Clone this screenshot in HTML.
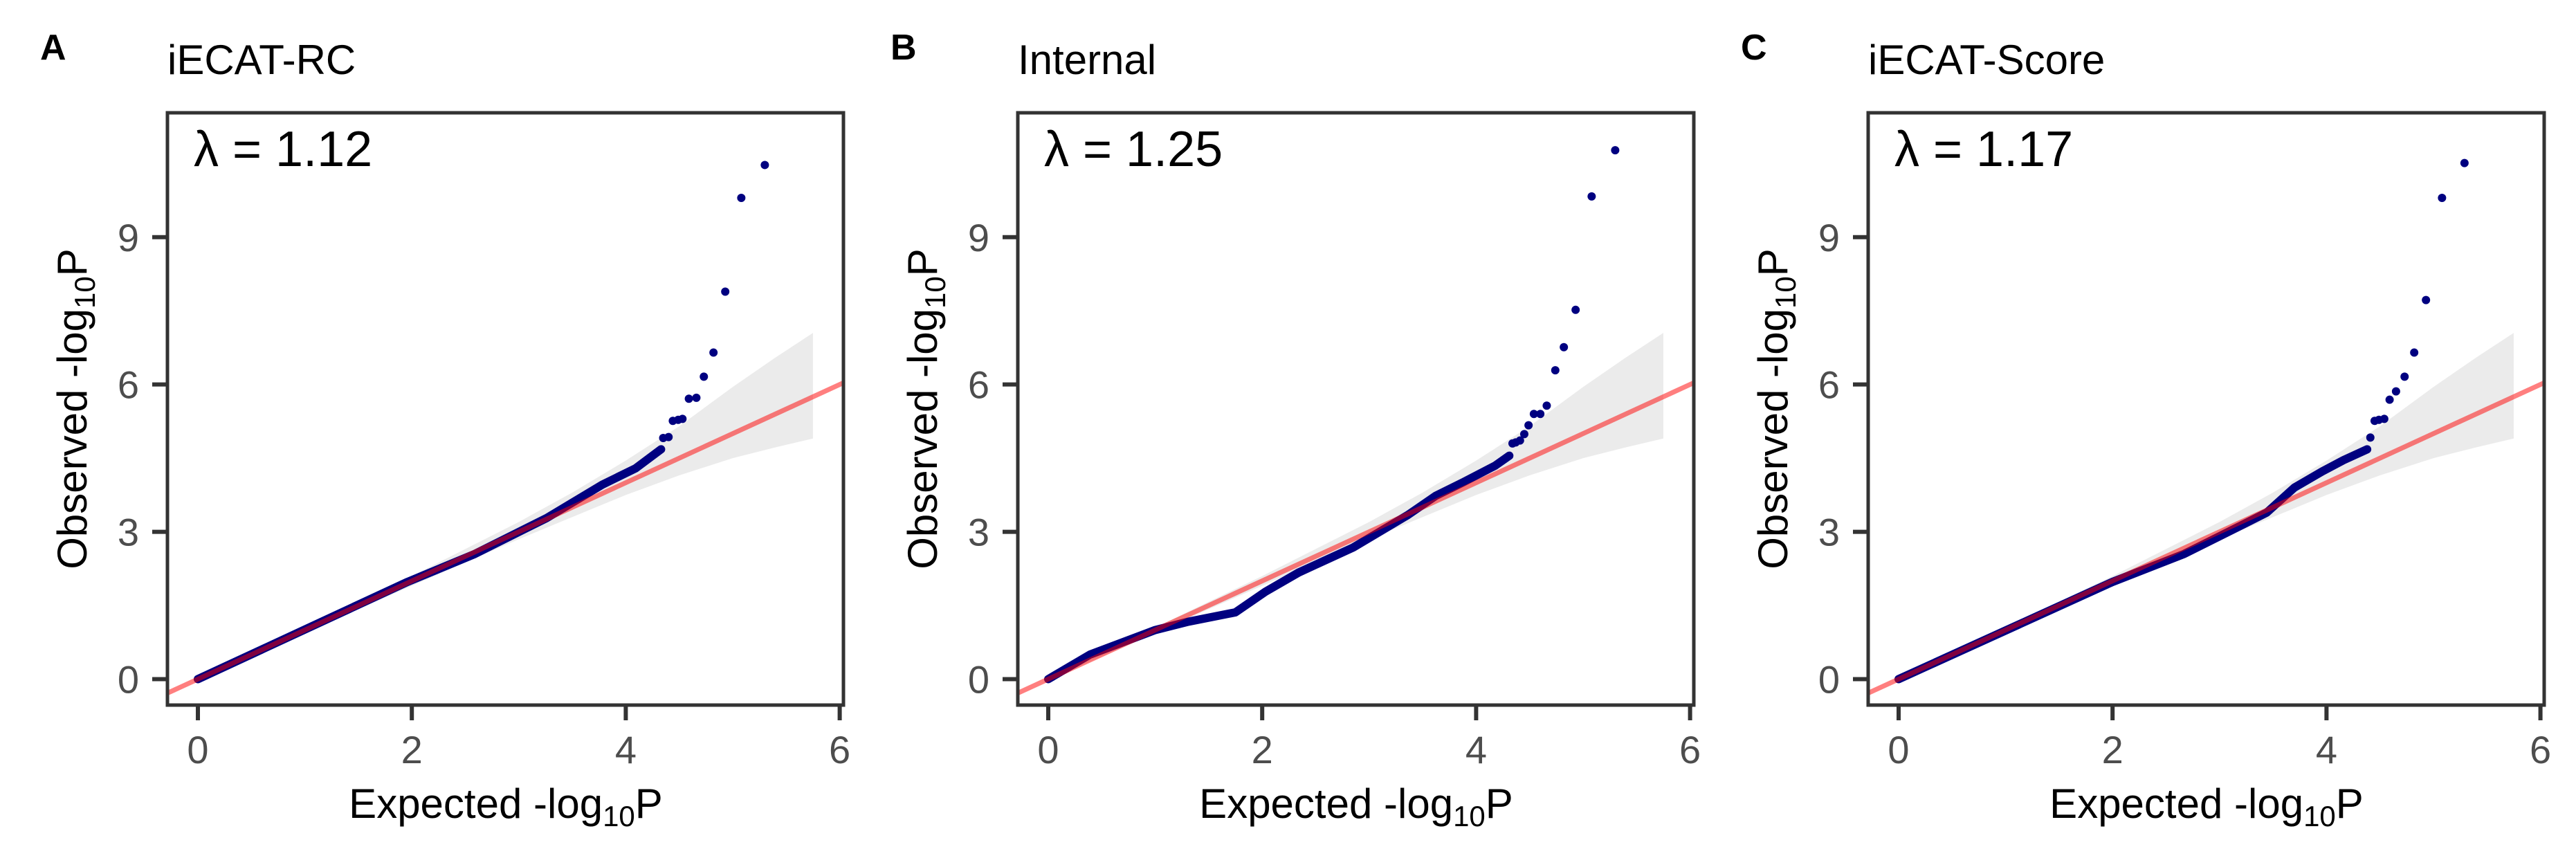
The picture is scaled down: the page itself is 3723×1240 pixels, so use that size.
<!DOCTYPE html>
<html><head><meta charset="utf-8">
<style>
html,body{margin:0;padding:0;background:#fff;}
svg{display:block;font-family:"Liberation Sans",Arial,sans-serif;}
</style></head>
<body>
<svg id="fig" width="3723" height="1240" viewBox="0 0 3723 1240" xmlns="http://www.w3.org/2000/svg"></svg>
<script>
// ---- data ----
const panelLetters = ["A","B","C"];
const panelTitles = ["iECAT-RC","Internal","iECAT-Score"];
const lambdas = ["1.12","1.25","1.17"];
const xTicks = [0,2,4,6];
const yTicks = [0,3,6,9];
// bulk (dense) QQ curves: expected, observed
const bulkExpA = [0,1.96,2.59,3.26,3.52,3.78,4.09,4.33];
const bulkObsA = [0,1.98,2.55,3.28,3.62,3.96,4.29,4.68];
const bulkExpB = [0,0.39,1.0,1.31,1.75,2.03,2.34,2.85,3.36,3.62,3.88,4.18,4.31];
const bulkObsB = [0,0.50,1.0,1.17,1.36,1.78,2.17,2.68,3.34,3.73,4.01,4.35,4.55];
const bulkExpC = [0,2.0,2.67,3.24,3.44,3.70,3.96,4.16,4.38];
const bulkObsC = [0,1.98,2.55,3.17,3.39,3.90,4.23,4.46,4.68];
// tail points
const tailExpA = [4.35,4.40,4.44,4.49,4.53,4.59,4.66,4.73,4.82,4.93,5.08,5.30];
const tailObsA = [4.91,4.93,5.26,5.28,5.30,5.71,5.73,6.16,6.65,7.89,9.80,10.47];
const tailExpB = [4.34,4.37,4.41,4.45,4.49,4.54,4.60,4.66,4.74,4.82,4.93,5.08,5.30];
const tailObsB = [4.80,4.82,4.86,4.99,5.17,5.40,5.40,5.57,6.29,6.76,7.52,9.83,10.77];
const tailExpC = [4.41,4.45,4.49,4.54,4.59,4.65,4.73,4.82,4.93,5.08,5.29];
const tailObsC = [4.92,5.26,5.28,5.30,5.69,5.86,6.16,6.65,7.72,9.80,10.51];
// confidence band
const bandExp = [0,1,2,3,3.5,4,4.5,5,5.4,5.75];
const bandUpper = [0.02,1.05,2.1,3.2,3.8,4.45,5.15,5.95,6.55,7.05];
const bandLower = [-0.02,0.95,1.9,2.85,3.3,3.75,4.15,4.5,4.72,4.9];

const bulkExp=[bulkExpA,bulkExpB,bulkExpC], bulkObs=[bulkObsA,bulkObsB,bulkObsC];
const tailExp=[tailExpA,tailExpB,tailExpC], tailObs=[tailObsA,tailObsB,tailObsC];

const NS="http://www.w3.org/2000/svg";
const svg=document.getElementById('fig');
function mk(tag,attrs,parent){const e=document.createElementNS(NS,tag);for(const k in attrs)e.setAttribute(k,attrs[k]);(parent||svg).appendChild(e);return e;}

const offsets=[0,1229,2458];
const BL=242,BR=1219,BT=163,BB=1019,X0=286,UX=154.6,Y0=981.5,UY=70.97;

for(let p=0;p<3;p++){
  const o=offsets[p];
  const sx=v=>o+X0+v*UX, sy=v=>Y0-v*UY;
  const g=mk('g',{});
  
  
  const cid='clip'+p;
  const cp=mk('clipPath',{id:cid},g);
  mk('rect',{x:o+BL,y:BT,width:BR-BL,height:BB-BT},cp);
  const plot=mk('g',{'clip-path':'url(#'+cid+')'},g);
  // band
  let d='';
  for(let i=0;i<bandExp.length;i++) d+=(i?'L':'M')+sx(bandExp[i])+','+sy(bandUpper[i]);
  for(let i=bandExp.length-1;i>=0;i--) d+='L'+sx(bandExp[i])+','+sy(bandLower[i]);
  const band=mk('path',{d:d+'Z',fill:'#ebebeb'},plot);
  
  
  // bulk curve
  const be=bulkExp[p], bo=bulkObs[p];
  const pts=be.map((v,i)=>sx(v)+','+sy(bo[i])).join(' ');
  const bulk=mk('polyline',{points:pts,fill:'none',stroke:'#000080','stroke-width':12,'stroke-linejoin':'round','stroke-linecap':'round'},plot);
  
  
  // tail points
  const te=tailExp[p], to=tailObs[p];
  for(let i=0;i<te.length;i++){
    const c=mk('circle',{cx:sx(te[i]),cy:sy(to[i]),r:6,fill:'#000080'},plot);
    
    
  }
  // reference line y=x
  const ref=mk('line',{x1:sx(-0.5),y1:sy(-0.5),x2:sx(6.5),y2:sy(6.5),stroke:'#ff0000','stroke-opacity':0.5,'stroke-width':7},plot);
  
  
  // box
  const box=mk('rect',{x:o+BL,y:BT,width:BR-BL,height:BB-BT,fill:'none',stroke:'#333','stroke-width':5},g);
  
  
  // ticks
  xTicks.forEach(t=>{
    mk('line',{x1:sx(t),y1:BB,x2:sx(t),y2:BB+22,stroke:'#333','stroke-width':6},g);
    const tx=mk('text',{x:sx(t),y:1103,'font-size':56,fill:'#4d4d4d','text-anchor':'middle'},g);
    tx.textContent=t;
    
    
  });
  yTicks.forEach(t=>{
    mk('line',{x1:o+BL-22,y1:sy(t),x2:o+BL,y2:sy(t),stroke:'#333','stroke-width':6},g);
    const ty=mk('text',{x:o+201,y:sy(t)+20,'font-size':56,fill:'#4d4d4d','text-anchor':'end'},g);
    ty.textContent=t;
    
    
  });
  // labels
  const L=mk('text',{x:o+58,y:86,'font-size':52,'font-weight':'bold',fill:'#000'},g);
  L.textContent=panelLetters[p];
  
  
  const T=mk('text',{x:o+242,y:107,'font-size':60,fill:'#000'},g);
  T.textContent=panelTitles[p];
  
  
  const lam=mk('text',{x:o+280,y:240,'font-size':72,fill:'#000'},g);
  lam.textContent='λ = '+lambdas[p];
  
  
  const xt=mk('text',{x:o+731,y:1182,'font-size':60,fill:'#000','text-anchor':'middle'},g);
  xt.innerHTML='Expected -log<tspan font-size="42" dy="12">10</tspan><tspan dy="-12">P</tspan>';
  
  
  const yt=mk('text',{x:0,y:0,'font-size':60,fill:'#000','text-anchor':'middle',transform:'translate('+(o+125)+',591) rotate(-90)'},g);
  yt.innerHTML='Observed -log<tspan font-size="42" dy="12">10</tspan><tspan dy="-12">P</tspan>';
  
  
}
</script>
</body></html>
